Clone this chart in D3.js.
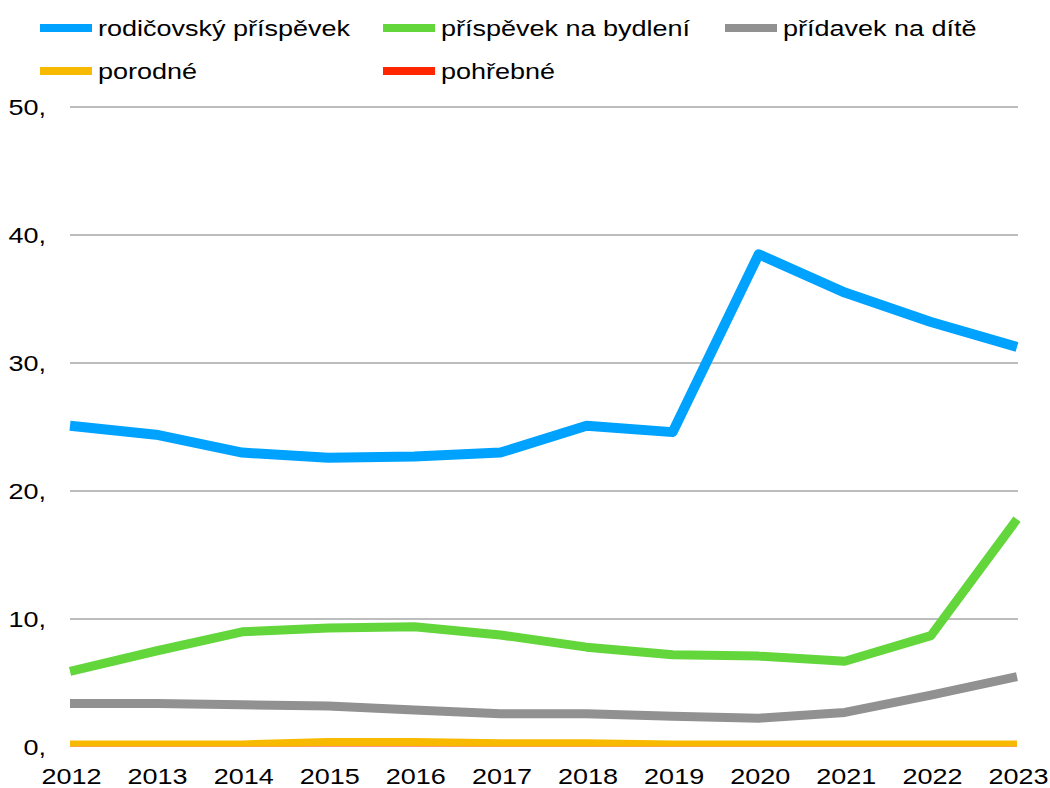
<!DOCTYPE html>
<html><head><meta charset="utf-8">
<script src="https://cdn.jsdelivr.net/npm/d3@7"></script>
<style>body{margin:0;background:#fff}svg text{font-family:"Liberation Sans",Arial,sans-serif;fill:#000}</style>
</head><body><svg id="c" width="1050" height="788"></svg>
<script>
const years = [2012,2013,2014,2015,2016,2017,2018,2019,2020,2021,2022,2023];
const rodicovsky = [25.1,24.4,23.0,22.6,22.7,23.0,25.1,24.6,38.5,35.5,33.2,31.25];
const bydleni = [5.9,7.5,9.0,9.3,9.4,8.75,7.8,7.2,7.1,6.7,8.7,17.8];
const pridavek = [3.4,3.4,3.3,3.2,2.9,2.6,2.6,2.4,2.25,2.7,4.05,5.5];
const porodne = [0.2,0.2,0.2,0.4,0.4,0.3,0.3,0.2,0.2,0.2,0.2,0.2];
const pohrebne = [0.05,0.05,0.05,0.05,0.05,0.05,0.05,0.05,0.05,0.05,0.05,0.05];
const yTicks = [0,10,20,30,40,50];
const yTickLabels = ["0,","10,","20,","30,","40,","50,"];
const seriesNames = ["rodičovský příspěvek","příspěvek na bydlení","přídavek na dítě","porodné","pohřebné"];
const colors = ["#00A2FF","#63D63C","#919191","#F7BA00","#FF2600"];
const widths = [10,9,9,8,8];
const seriesData = [rodicovsky,bydleni,pridavek,porodne,pohrebne];

const FS = 22.5, SX = 1.2;
const svg = d3.select("#c");
const x = d3.scalePoint().domain(years).range([70,1017]);
const y = d3.scaleLinear().domain([0,50]).range([747,107]);

svg.append("defs").append("clipPath").attr("id","plot")
  .append("rect").attr("x",0).attr("y",0).attr("width",1050).attr("height",746.5);

// grid
svg.append("g").selectAll("line").data(yTicks.slice(1)).join("line")
  .attr("x1",70).attr("x2",1018).attr("y1",d=>y(d)).attr("y2",d=>y(d))
  .attr("stroke","#BDBDBD").attr("stroke-width",2);

// y labels
svg.append("g").selectAll("text").data(yTicks).join("text")
  .attr("transform",d=>`translate(46,${y(d)}) scale(${SX},1)`)
  .attr("text-anchor","end").attr("dy","0.35em").attr("font-size",FS)
  .text((d,i)=>yTickLabels[i]);

// x labels
svg.append("g").selectAll("text").data(years).join("text")
  .attr("transform",d=>`translate(${x(d)+1.5},784) scale(${SX},1)`)
  .attr("text-anchor","middle").attr("font-size",FS)
  .text(d=>d);

// lines
const line = d3.line().x((d,i)=>x(years[i])).y(d=>y(d));
const order = [4,3,2,1,0];
svg.append("g").attr("clip-path","url(#plot)").selectAll("path").data(order).join("path")
  .attr("d",i=>line(seriesData[i])).attr("fill","none")
  .attr("stroke",i=>colors[i]).attr("stroke-width",i=>widths[i])
  .attr("stroke-linejoin","round");

// legend
const legPos = [[40,28],[383,28],[725,28],[40,71],[383,71]];
const lg = svg.append("g").selectAll("g").data(seriesNames).join("g")
  .attr("transform",(d,i)=>`translate(${legPos[i][0]},${legPos[i][1]})`);
lg.append("line").attr("x1",0).attr("x2",52).attr("y1",0).attr("y2",0)
  .attr("stroke",(d,i)=>colors[i]).attr("stroke-width",8);
lg.append("text").attr("transform",`translate(58,0) scale(${SX},1)`)
  .attr("dy","0.35em").attr("font-size",FS).text(d=>d);
</script></body></html>
